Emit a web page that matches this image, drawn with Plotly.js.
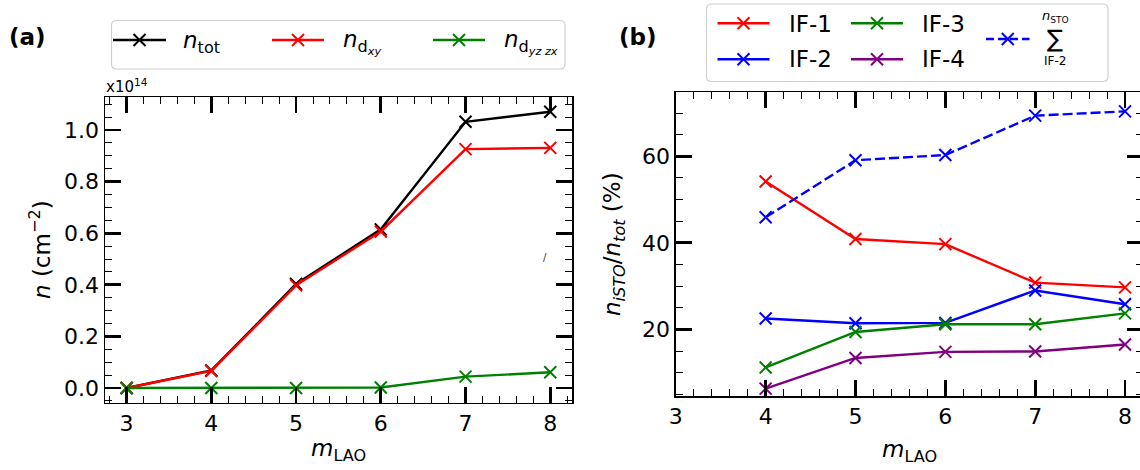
<!DOCTYPE html>
<html>
<head>
<meta charset="utf-8">
<script src="https://cdn.plot.ly/plotly-3.0.1.min.js"></script>
<style>
html,body{margin:0;padding:0;overflow:hidden;background:#fff;}
#chart{width:1144px;height:470px;}
</style>
</head>
<body>
<div id="chart"></div>
<script>
// ---- data ----
const mLAO = [3, 4, 5, 6, 7, 8];
const nTot = [0.0, 0.068, 0.403, 0.615, 1.032, 1.071];
const nDxy = [0.0, 0.066, 0.398, 0.607, 0.926, 0.931];
const nDyzzx = [0.0, 0.0, 0.0, 0.002, 0.044, 0.061];

const mLAOb = [4, 5, 6, 7, 8];
const IF1 = [54.2, 40.9, 39.7, 30.8, 29.7];
const IF2 = [22.5, 21.4, 21.5, 29.0, 25.8];
const IF3 = [11.2, 19.4, 21.2, 21.2, 23.7];
const IF4 = [6.3, 13.4, 14.8, 14.9, 16.5];
const sumIF2toSTO = [45.9, 59.1, 60.3, 69.4, 70.4];

const legendA = ['<i>n</i><sub>tot</sub>', '<i>n</i><sub>d<sub><i>xy</i></sub></sub>', '<i>n</i><sub>d<sub><i>yz zx</i></sub></sub>'];
const legendB = ['IF-1', 'IF-2', 'IF-3', 'IF-4'];

// ---- geometry helpers ----
const W = 1144, H = 470;
const px = x => x / W;
const py = y => 1 - y / H;
const FONT = 'DejaVu Sans';
const BLACK = '#000000', RED = '#ff0000', GREEN = '#008000', BLUE = '#0000ff', PURPLE = '#800080';

function tr(x, y, color, xa, ya, dash) {
  return {
    x: x, y: y, xaxis: xa, yaxis: ya, type: 'scatter', mode: 'lines+markers',
    line: {color: color, width: 2.4, dash: dash || 'solid'},
    marker: {symbol: 'x-thin', size: 12, line: {color: color, width: 2}, color: color},
    showlegend: false, hoverinfo: 'skip'
  };
}

const data = [
  tr(mLAO, nTot, BLACK, 'x', 'y'),
  tr(mLAO, nDxy, RED, 'x', 'y'),
  tr(mLAO, nDyzzx, GREEN, 'x', 'y'),
  tr(mLAOb, IF1, RED, 'x2', 'y2'),
  tr(mLAOb, IF2, BLUE, 'x2', 'y2'),
  tr(mLAOb, IF3, GREEN, 'x2', 'y2'),
  tr(mLAOb, IF4, PURPLE, 'x2', 'y2'),
  tr(mLAOb, sumIF2toSTO, BLUE, 'x2', 'y2', '10px,4px')
];

function axisBase(extra) {
  return Object.assign({
    showgrid: false, zeroline: false, showline: true, linecolor: BLACK, linewidth: 1.5,
    mirror: 'ticks', ticks: 'inside', ticklen: 16, tickwidth: 2.8, tickcolor: BLACK,
    tickfont: {family: FONT, size: 22, color: BLACK}, fixedrange: true
  }, extra);
}

// legend helpers (manual legends built from shapes + annotations)
const shapes = [];
const annotations = [];
function roundBox(x0, y0, x1, y1, r) {
  const p = (x, y) => px(x) + ',' + py(y);
  const path = 'M' + p(x0 + r, y0) + ' L' + p(x1 - r, y0) + ' Q' + p(x1, y0) + ' ' + p(x1, y0 + r) +
    ' L' + p(x1, y1 - r) + ' Q' + p(x1, y1) + ' ' + p(x1 - r, y1) +
    ' L' + p(x0 + r, y1) + ' Q' + p(x0, y1) + ' ' + p(x0, y1 - r) +
    ' L' + p(x0, y0 + r) + ' Q' + p(x0, y0) + ' ' + p(x0 + r, y0) + ' Z';
  shapes.push({type: 'path', xref: 'paper', yref: 'paper', path: path,
    line: {color: '#d0d0d0', width: 1.2}, fillcolor: 'rgba(255,255,255,0.8)', layer: 'above'});
}
function sample(x0, x1, y, color, dash) {
  shapes.push({type: 'line', xref: 'paper', yref: 'paper', x0: px(x0), x1: px(x1), y0: py(y), y1: py(y),
    line: {color: color, width: 2.5, dash: dash || 'solid'}, layer: 'above'});
  const xm = (x0 + x1) / 2, r = 6;
  shapes.push({type: 'line', xref: 'paper', yref: 'paper', x0: px(xm - r), x1: px(xm + r), y0: py(y - r), y1: py(y + r),
    line: {color: color, width: 2}, layer: 'above'});
  shapes.push({type: 'line', xref: 'paper', yref: 'paper', x0: px(xm - r), x1: px(xm + r), y0: py(y + r), y1: py(y - r),
    line: {color: color, width: 2}, layer: 'above'});
}
function label(text, x, y, size, xanchor, extra) {
  annotations.push(Object.assign({text: text, xref: 'paper', yref: 'paper', x: px(x), y: py(y),
    xanchor: xanchor || 'left', yanchor: 'middle', showarrow: false,
    font: {family: FONT, size: size, color: BLACK}}, extra || {}));
}

// legend (a)
roundBox(111.5, 20.5, 565, 69, 5);
sample(113, 166, 40, BLACK); label(legendA[0], 181, 42, 23);
sample(272, 324, 40, RED); label(legendA[1], 341, 42, 23);
sample(433, 485, 40, GREEN); label(legendA[2], 502, 42, 23);

// legend (b)
roundBox(706.5, 4, 1108, 81.5, 5);
sample(717.5, 769.5, 23.3, RED); label(legendB[0], 787, 23.5, 23);
sample(717.5, 769.5, 59.3, BLUE); label(legendB[1], 787, 59.5, 23);
sample(851, 903, 23.3, GREEN); label(legendB[2], 920.5, 23.5, 23);
sample(851, 903, 59.3, PURPLE); label(legendB[3], 920.5, 59.5, 23);
sample(986, 1029.5, 39, BLUE, '8px,4px');
label('∑', 1055, 39, 24, 'center');
label('<i>n</i><sub>STO</sub>', 1055, 16, 13, 'center');
label('IF-2', 1055, 61, 12, 'center');

// panel labels, axis titles, misc text
label('<b>(a)</b>', 27, 37, 23, 'center');
label('<b>(b)</b>', 638, 37, 23, 'center');
label('x10<sup>14</sup>', 104, 86, 15, 'left');
label('/', 545, 257, 10, 'center', {font: {family: FONT, size: 10, color: '#333333'}});
label('<i>m</i><sub>LAO</sub>', 338.5, 450, 23, 'center');
label('<i>m</i><sub>LAO</sub>', 909, 451, 23, 'center');
label('<i>n</i> (cm<sup>−2</sup>)', 40, 250, 23, 'center', {textangle: -90});
label('<i>n</i><sub><i>iSTO</i></sub>/<i>n</i><sub><i>tot</i></sub> (%)', 614, 244, 23, 'center', {textangle: -90});

const layout = {
  width: W, height: H,
  margin: {l: 0, r: 0, t: 0, b: 0, pad: 0},
  paper_bgcolor: '#ffffff', plot_bgcolor: '#ffffff',
  showlegend: false,
  font: {family: FONT, size: 22, color: BLACK},
  xaxis: axisBase({domain: [px(105), px(572.3)], range: [2.745, 8.26], anchor: 'y',
    tickmode: 'linear', tick0: 3, dtick: 1,
    minor: {dtick: 0.2, tick0: 3, ticks: 'inside', ticklen: 7, tickwidth: 1, tickcolor: BLACK}}),
  yaxis: axisBase({domain: [py(402.7), py(97.3)], range: [-0.057, 1.127], anchor: 'x',
    tickmode: 'linear', tick0: 0, dtick: 0.2, tickformat: '.1f',
    minor: {dtick: 0.05, tick0: 0, ticks: 'inside', ticklen: 7, tickwidth: 1, tickcolor: BLACK}}),
  xaxis2: axisBase({domain: [px(675.8), px(1143)], range: [3, 8.2], anchor: 'y2',
    tickmode: 'linear', tick0: 3, dtick: 1,
    minor: {dtick: 0.2, tick0: 3, ticks: 'inside', ticklen: 7, tickwidth: 1, tickcolor: BLACK}}),
  yaxis2: axisBase({domain: [py(396), py(92.3)], range: [4.6, 74.8], anchor: 'x2',
    tickmode: 'linear', tick0: 0, dtick: 20,
    minor: {dtick: 5, tick0: 0, ticks: 'inside', ticklen: 7, tickwidth: 1, tickcolor: BLACK}}),
  shapes: shapes,
  annotations: annotations
};

Plotly.newPlot('chart', data, layout, {displayModeBar: false, staticPlot: true});
</script>
</body>
</html>
